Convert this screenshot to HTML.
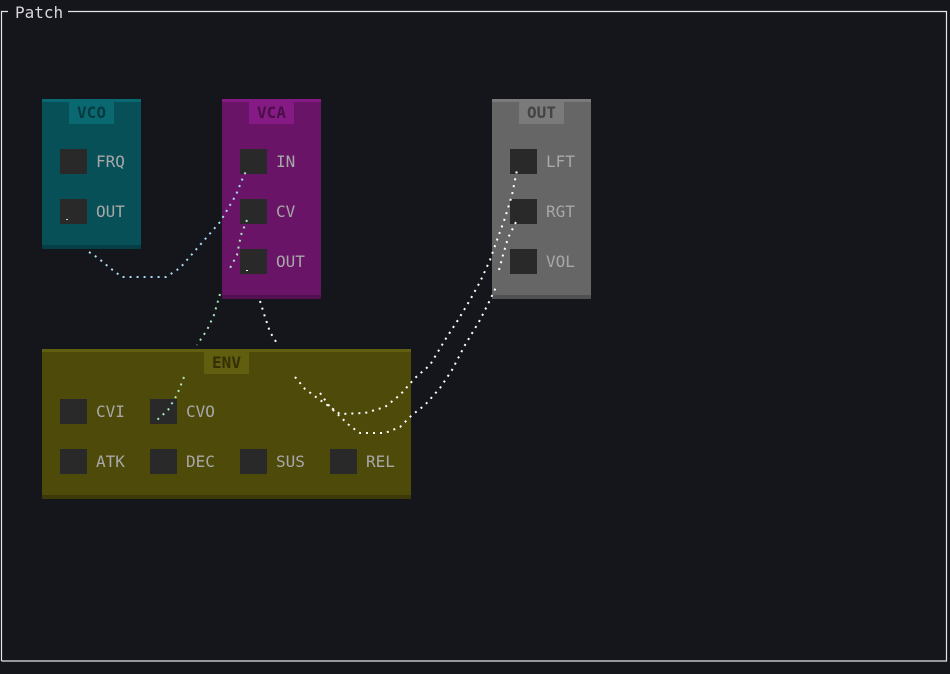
<!DOCTYPE html>
<html><head><meta charset="utf-8"><style>
html,body{margin:0;padding:0;background:#15161b;}
body{width:950px;height:674px;overflow:hidden;position:relative;font-family:"Liberation Mono","DejaVu Sans Mono",monospace;}
svg{position:absolute;left:0;top:0}
text{font-family:"DejaVu Sans Mono","Liberation Mono",monospace;font-size:16px;}
</style></head><body>
<svg width="950" height="674" xmlns="http://www.w3.org/2000/svg">
<rect x="0" y="0" width="950" height="674" fill="#15161b"/>
<path d="M1.5,661 L1.5,11.5 L8,11.5 M68,11.5 L946.5,11.5 L946.5,661 L1.5,661" stroke="#e4e4ec" stroke-width="1.2" fill="none"/>
<text x="15" y="18" fill="#d8d8dc" style="font-size:16px">Patch</text>

<rect x="42" y="99" width="99" height="150" fill="#075058"/>
<rect x="42" y="99" width="99" height="3" fill="#0a6870"/>
<rect x="42" y="245" width="99" height="4" fill="#053e44"/>
<rect x="69" y="102" width="45" height="22" fill="#0a6870"/>
<text x="91.5" y="118" text-anchor="middle" fill="#053a40" font-weight="bold">VCO</text>
<rect x="60" y="149" width="27" height="25" fill="#292929"/>
<rect x="60" y="199" width="27" height="25" fill="#292929"/>
<text x="96" y="167" fill="#a8a8a8">FRQ</text>
<text x="96" y="217" fill="#a8a8a8">OUT</text>

<rect x="222" y="99" width="99" height="200" fill="#6a1468"/>
<rect x="222" y="99" width="99" height="3" fill="#861a84"/>
<rect x="222" y="295" width="99" height="4" fill="#521050"/>
<rect x="249" y="102" width="45" height="22" fill="#861a84"/>
<text x="271.5" y="118" text-anchor="middle" fill="#4a0e48" font-weight="bold">VCA</text>
<rect x="240" y="149" width="27" height="25" fill="#292929"/>
<rect x="240" y="199" width="27" height="25" fill="#292929"/>
<rect x="240" y="249" width="27" height="25" fill="#292929"/>
<text x="276" y="167" fill="#a8a8a8">IN</text>
<text x="276" y="217" fill="#a8a8a8">CV</text>
<text x="276" y="267" fill="#a8a8a8">OUT</text>

<rect x="492" y="99" width="99" height="200" fill="#666666"/>
<rect x="492" y="99" width="99" height="3" fill="#7a7a7a"/>
<rect x="492" y="295" width="99" height="4" fill="#505050"/>
<rect x="519" y="102" width="45" height="22" fill="#7a7a7a"/>
<text x="541.5" y="118" text-anchor="middle" fill="#444" font-weight="bold">OUT</text>
<rect x="510" y="149" width="27" height="25" fill="#292929"/>
<rect x="510" y="199" width="27" height="25" fill="#292929"/>
<rect x="510" y="249" width="27" height="25" fill="#292929"/>
<text x="546" y="167" fill="#a8a8a8">LFT</text>
<text x="546" y="217" fill="#a8a8a8">RGT</text>
<text x="546" y="267" fill="#a8a8a8">VOL</text>

<rect x="42" y="349" width="369" height="150" fill="#4e4a0a"/>
<rect x="42" y="349" width="369" height="3" fill="#625e10"/>
<rect x="42" y="495" width="369" height="4" fill="#3c3908"/>
<rect x="204" y="352" width="45" height="22" fill="#625e10"/>
<text x="226.5" y="368" text-anchor="middle" fill="#333006" font-weight="bold">ENV</text>
<rect x="60" y="399" width="27" height="25" fill="#292929"/>
<rect x="150" y="399" width="27" height="25" fill="#292929"/>
<rect x="60" y="449" width="27" height="25" fill="#292929"/>
<rect x="150" y="449" width="27" height="25" fill="#292929"/>
<rect x="240" y="449" width="27" height="25" fill="#292929"/>
<rect x="330" y="449" width="27" height="25" fill="#292929"/>
<text x="96" y="417" fill="#a8a8a8">CVI</text>
<text x="186" y="417" fill="#a8a8a8">CVO</text>
<text x="96" y="467" fill="#a8a8a8">ATK</text>
<text x="186" y="467" fill="#a8a8a8">DEC</text>
<text x="276" y="467" fill="#a8a8a8">SUS</text>
<text x="366" y="467" fill="#a8a8a8">REL</text>

<g fill="none" stroke-width="2" stroke-dasharray="2 5">
<path stroke="#a8dcf4" d="M67,219 L67,220 M89,252 L98,258 L110,268 L122,277 L166,277 L180,268 L200,245 L220,222 L236,195 L244,175 L247,170"/>
<path stroke="#a8eab8" d="M247,220 L241,235 L237,255 L229,270 M220,294 L214,315 L207,330 L197,345 M184,377 L177,395 L168,410 L157,420"/>
<path stroke="#ffffff" d="M247,270 L247,271 M260,301 L265,317 L270,332 L278,345 M295,377 L305,389 L320,400 L340,414 L365,413 L385,407 L400,395 L415,378 L430,365 L445,340 L458,320 L470,300 L480,282 L490,260 L497,240 L505,218 L512,195 L517,170 M320,393 L330,407 L350,426 L360,433 L385,433 L400,427 L412,415 L425,405 L440,388 L452,370 L465,345 L480,320 L490,300 L497,285 M499,270 L503,255 L508,238 L517,220"/>
</g>
</svg>
</body></html>
